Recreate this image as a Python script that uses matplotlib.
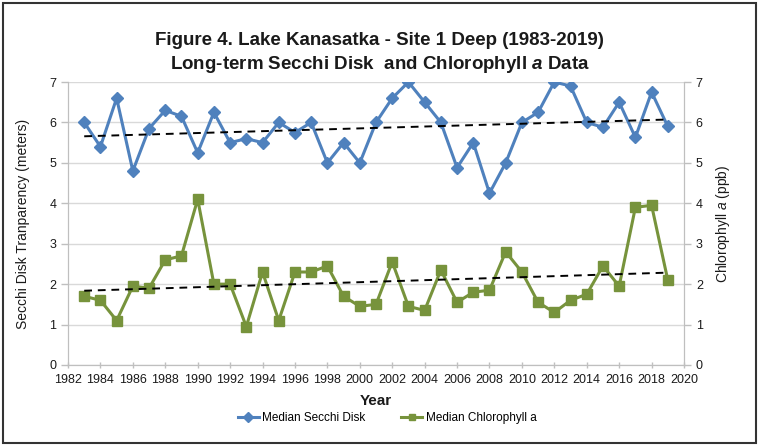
import numpy as np
import matplotlib
matplotlib.use("Agg")
import matplotlib.pyplot as plt
from matplotlib.patches import Rectangle
from matplotlib.lines import Line2D

years = list(range(1983, 2020))
secchi = [6.0, 5.4, 6.6, 4.8, 5.85, 6.3, 6.15, 5.25, 6.25, 5.5, 5.6, 5.5, 6.0, 5.75,
          6.0, 5.0, 5.5, 5.0, 6.0, 6.6, 7.0, 6.5, 6.0, 4.88, 5.5, 4.25, 5.0, 6.0,
          6.25, 7.0, 6.9, 6.0, 5.88, 6.5, 5.63, 6.75, 5.9]
chl = [1.7, 1.6, 1.1, 1.95, 1.9, 2.6, 2.7, 4.1, 2.0, 2.0, 0.95, 2.3, 1.1, 2.3,
       2.3, 2.45, 1.7, 1.45, 1.5, 2.55, 1.45, 1.35, 2.35, 1.55, 1.8, 1.85, 2.8, 2.3,
       1.55, 1.3, 1.6, 1.75, 2.45, 1.95, 3.9, 3.95, 2.1]
xticks = list(range(1982, 2021, 2))
yticks = list(range(0, 8))

plt.rcParams['font.family'] = ['Liberation Sans', 'DejaVu Sans']
plt.rcParams['mathtext.fontset'] = 'custom'
plt.rcParams['mathtext.rm'] = 'Liberation Sans'
plt.rcParams['mathtext.it'] = 'Liberation Sans:italic'
plt.rcParams['mathtext.bf'] = 'Liberation Sans:bold'
plt.rcParams['mathtext.bfit'] = 'Liberation Sans:italic:bold'

blue = '#4F81BD'
green = '#77933C'
txt = '#1a1a1a'

fig = plt.figure(figsize=(7.59, 4.45), dpi=100)
fig.patches.append(Rectangle((0.004, 0.004), 0.992, 0.99, transform=fig.transFigure,
                             fill=False, edgecolor='#333333', linewidth=1.5))
ax = fig.add_axes([0.0896, 0.1798, 0.8116, 0.6359])
ax2 = ax.twinx()

yrs = np.array(years)
ax.plot(years, secchi, color=blue, lw=2.2, marker='D', ms=6, mfc=blue, mec=blue, zorder=3)
ax2.plot(years, chl, color=green, lw=2.2, marker='s', ms=7, mfc=green, mec=green, zorder=3)

p1 = np.polyfit(yrs, secchi, 1)
ax.plot(yrs, np.polyval(p1, yrs), color='black', ls=(0, (4, 3)), lw=1.4, zorder=4)
p2 = np.polyfit(yrs, chl, 1)
ax2.plot(yrs, np.polyval(p2, yrs), color='black', ls=(0, (4, 3)), lw=1.4, zorder=4)

for a in (ax, ax2):
    a.set_ylim(0, 7)
    a.set_yticks(yticks)
    for s in a.spines.values():
        s.set_color('#BFBFBF')
    a.tick_params(colors='#BFBFBF', labelcolor=txt, labelsize=9, length=5, width=1)
ax.set_xlim(1982, 2020)
ax.set_xticks(xticks)
ax.grid(axis='y', color='#D9D9D9', lw=1)
ax.set_axisbelow(True)
ax.spines['top'].set_visible(False)
ax2.spines['top'].set_visible(False)
ax.tick_params(axis='x', length=5, direction='inout', pad=4)
ax.tick_params(axis='y', direction='out')
ax2.tick_params(axis='y', direction='out')

ax.set_ylabel('Secchi Disk Tranparency (meters)', fontsize=10, color=txt, labelpad=14)
ax2.set_ylabel('Chlorophyll $\\it{a}$ (ppb)', fontsize=10, color=txt, labelpad=8)
ax.set_xlabel('Year', fontsize=11, fontweight='bold', color=txt, labelpad=6)

fig.text(0.5, 0.908, 'Figure 4. Lake Kanasatka - Site 1 Deep (1983-2019)', ha='center', va='center',
         fontsize=13.5, fontweight='bold', color=txt)
fig.text(0.5, 0.855, 'Long-term Secchi Disk  and Chlorophyll $\\mathbfit{a}$ Data', ha='center', va='center',
         fontsize=13.5, fontweight='bold', color=txt)

h = [Line2D([], [], color=blue, lw=2.2, marker='D', ms=5),
     Line2D([], [], color=green, lw=2.2, marker='s', ms=5)]
fig.legend(h, ['Median Secchi Disk', 'Median Chlorophyll a'], loc='center',
           bbox_to_anchor=(0.51, 0.06), ncol=2, frameon=False, fontsize=8.5,
           handlelength=1.8, columnspacing=3, handletextpad=0.3)

fig.savefig('out.png', dpi=100)
